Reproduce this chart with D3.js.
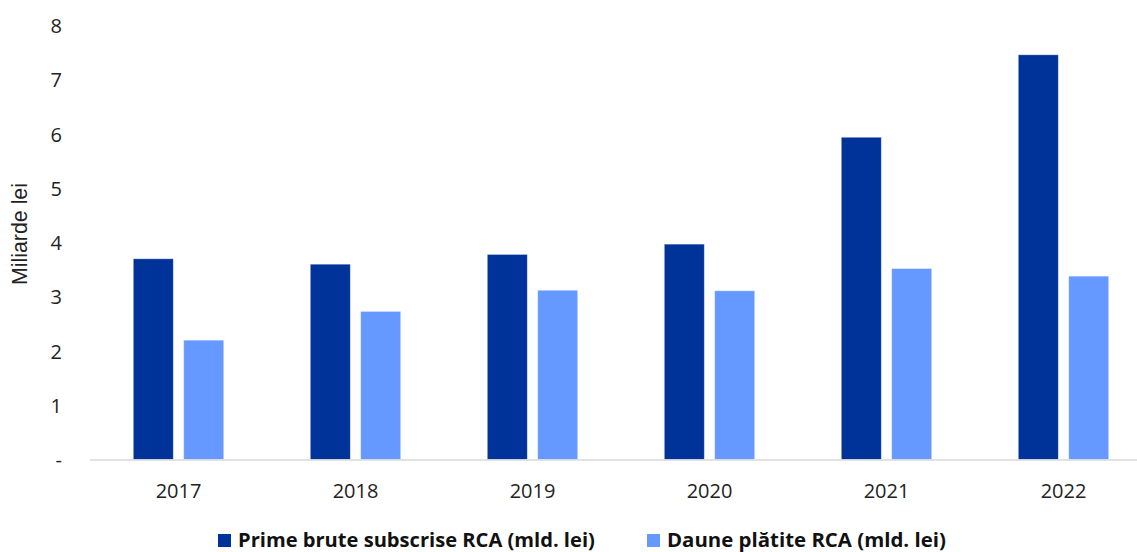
<!DOCTYPE html>
<html>
<head>
<meta charset="utf-8">
<script src="https://cdn.jsdelivr.net/npm/d3@7"></script>
<style>
  html, body { margin: 0; padding: 0; background: #fff; }
  svg { display: block; }
</style>
</head>
<body>
<svg id="chart" width="1137" height="552"></svg>
<script>
const categories = ["2017", "2018", "2019", "2020", "2021", "2022"];
const seriesNames = ["Prime brute subscrise RCA (mld. lei)", "Daune plătite RCA (mld. lei)"];
const primeBrute = [3.70, 3.60, 3.78, 3.97, 5.94, 7.46];
const daunePlatite = [2.20, 2.73, 3.12, 3.11, 3.52, 3.38];
const yTicks = [0, 1, 2, 3, 4, 5, 6, 7, 8];
const yTitle = "Miliarde lei";
const colors = ["#003399", "#6699FF"];

const svg = d3.select("#chart");
const W = 1137, H = 552;

const x = d3.scaleBand().domain(categories).range([90, 1152]).paddingInner(0).paddingOuter(0);
const xSub = d3.scaleBand().domain([0, 1]).range([0, x.bandwidth()]).paddingInner(0.206).paddingOuter(0.859);
const y = d3.scaleLinear().domain([0, 8]).range([459.5, 25.5]);

function fit(sel, target) {
  const len = sel.node().getComputedTextLength();
  const fs = parseFloat(sel.attr("font-size"));
  if (len > 0) sel.attr("font-size", (fs * target / len).toFixed(2));
}

// bars
const data = categories.map((c, i) => ({ cat: c, vals: [primeBrute[i], daunePlatite[i]] }));
const groups = svg.append("g").selectAll("g").data(data).join("g")
  .attr("transform", d => `translate(${x(d.cat)},0)`);
groups.selectAll("rect").data(d => d.vals.map((v, k) => ({ v, k }))).join("rect")
  .attr("x", d => xSub(d.k))
  .attr("width", xSub.bandwidth())
  .attr("y", d => y(d.v))
  .attr("height", d => y(0) - y(d.v))
  .attr("fill", d => colors[d.k])
  .attr("stroke", "#ffffff")
  .attr("stroke-opacity", 0.45)
  .attr("stroke-width", 0.8);

// x axis line
svg.append("line")
  .attr("x1", 90).attr("x2", W)
  .attr("y1", y(0) + 0.5).attr("y2", y(0) + 0.5)
  .attr("stroke", "#d9d9d9").attr("stroke-width", 1.5);

// x labels
const xAxis = d3.axisBottom(x).tickSize(0).tickPadding(0);
const gx = svg.append("g").attr("transform", `translate(0,${y(0)})`).call(xAxis);
gx.select(".domain").remove();
gx.selectAll("text")
  .attr("font-family", "'Open Sans', sans-serif")
  .attr("font-size", 20)
  .attr("fill", "#222")
  .attr("dy", 0)
  .attr("y", 38.5);

// y labels
const yAxis = d3.axisLeft(y).tickValues(yTicks).tickSize(0).tickPadding(0)
  .tickFormat(d => d === 0 ? "-" : String(d));
const gy = svg.append("g").attr("transform", "translate(62,0)").call(yAxis);
gy.select(".domain").remove();
gy.selectAll("text")
  .attr("font-family", "'Open Sans', sans-serif")
  .attr("font-size", 20)
  .attr("fill", "#222")
  .attr("x", 0)
  .attr("dy", "0.36em");

// y title
const yt = svg.append("text")
  .attr("transform", "translate(27,234) rotate(-90)")
  .attr("text-anchor", "middle")
  .attr("font-family", "'Liberation Sans', Arial, sans-serif")
  .attr("font-size", 20)
  .attr("fill", "#222")
  .text(yTitle);
fit(yt, 102);

// legend
const legendItems = [
  { name: seriesNames[0], color: colors[0], sx: 218, tx: 238, w: 357 },
  { name: seriesNames[1], color: colors[1], sx: 647, tx: 667, w: 279 }
];
const lg = svg.append("g");
legendItems.forEach(it => {
  lg.append("rect").attr("x", it.sx).attr("y", 534).attr("width", 13).attr("height", 13).attr("fill", it.color);
  const t = lg.append("text")
    .attr("x", it.tx).attr("y", 547)
    .attr("font-family", "'Open Sans', sans-serif")
    .attr("font-weight", "bold")
    .attr("font-size", 18)
    .attr("fill", "#111")
    .text(it.name);
  fit(t, it.w);
});
</script>
</body>
</html>
